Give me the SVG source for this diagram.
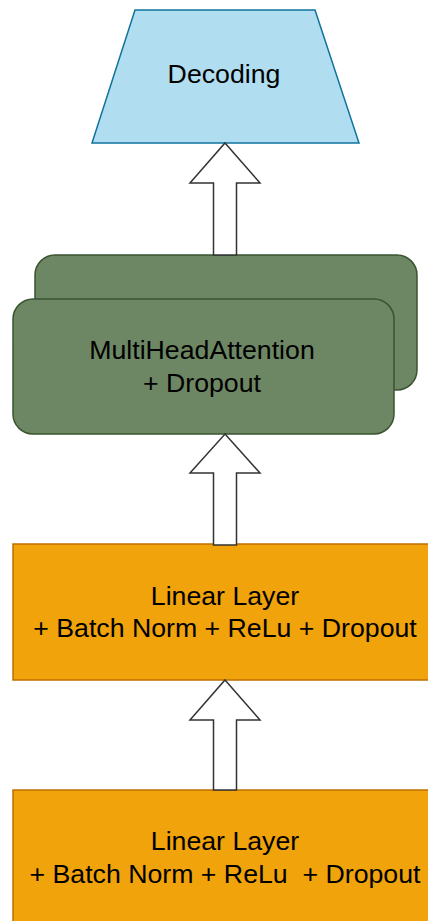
<svg xmlns="http://www.w3.org/2000/svg" width="428" height="921" viewBox="0 0 428 921">
  <style>
    .lbl { font-family: "Liberation Sans", Arial, sans-serif; font-size: 26.7px; fill: #000; text-anchor: middle; white-space: pre; }
    .blue { fill: #b1ddf0; stroke: #10739e; stroke-width: 1.5; }
    .green { fill: #6d8764; stroke: #3a5431; stroke-width: 1.5; }
    .orange { fill: #f0a30a; stroke: #bd7000; stroke-width: 1.5; }
    .arrow { fill: #ffffff; stroke: #333333; stroke-width: 1.5; stroke-linejoin: miter; }
  </style>
  <rect width="428" height="921" fill="#ffffff"/>

  <g id="decoding">
    <polygon class="blue" points="135,10 315,10 359,143 92,143"/>
    <text class="lbl" x="224" y="83">Decoding</text>
  </g>

  <g id="mha">
    <rect class="green" x="35" y="255" width="382" height="135" rx="20" ry="20"/>
    <rect class="green" x="13" y="299" width="381" height="135" rx="20" ry="20"/>
    <text class="lbl" x="202" y="359">MultiHeadAttention</text>
    <text class="lbl" x="202" y="392">+ Dropout</text>
  </g>

  <g id="linear1">
    <rect class="orange" x="13" y="544" width="440" height="136"/>
    <text class="lbl" x="225" y="605">Linear Layer</text>
    <text class="lbl" x="225" y="637">+ Batch Norm + ReLu + Dropout</text>
  </g>

  <g id="linear2">
    <rect class="orange" x="13" y="790" width="440" height="170"/>
    <text class="lbl" x="225" y="850">Linear Layer</text>
    <text class="lbl" x="225" y="883">+ Batch Norm + ReLu  + Dropout</text>
  </g>

  <g id="connectors">
    <polygon class="arrow" points="225,143 260,183 236.5,183 236.5,255 213.5,255 213.5,183 190,183"/>
    <polygon class="arrow" points="225,434 260,473 236.5,473 236.5,545 213.5,545 213.5,473 190,473"/>
    <polygon class="arrow" points="225,680 260,720 236.5,720 236.5,790 213.5,790 213.5,720 190,720"/>
  </g>
</svg>
